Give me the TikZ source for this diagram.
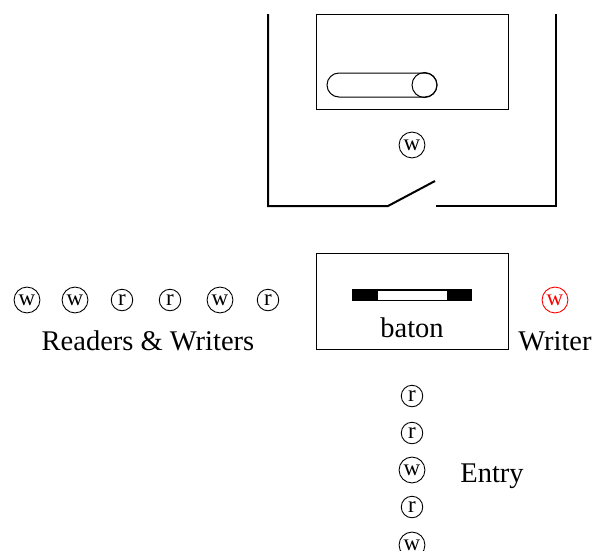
\documentclass[tikz,border=0pt]{standalone}
\usepackage{fontspec}
\setmainfont{Liberation Serif}
\begin{document}
\begin{tikzpicture}[x=1pt,y=-1pt,
  lbl/.style={font=\fontsize{28.5}{32}\selectfont, inner sep=0pt, anchor=base},
  tok/.style={circle, draw, line width=0.9pt, inner sep=2.2pt, minimum size=21.5pt,
    font=\fontsize{23}{25}\selectfont},
  thick wall/.style={line width=2pt},
  thin box/.style={draw, line width=1pt}]
\useasboundingbox (0,0) rectangle (596,550);
% outer room with door
\coordinate (tl) at (268,14);
\coordinate (bl) at (268,206);
\coordinate (d1) at (388,206);
\coordinate (d2) at (435,181);
\coordinate (d3) at (436,206);
\coordinate (br) at (556,206);
\coordinate (tr) at (556,14);
\draw[thick wall] (tl) -- (bl) -- (d1) -- (d2);
\draw[thick wall] (d3) -- (br) -- (tr);
% inner box with capsule
\node[thin box, minimum width=192pt, minimum height=95pt, inner sep=0pt] (inner) at (412,61.5) {};
\draw[line width=1pt, rounded corners=12pt] (327,73) rectangle (437,97);
\node[circle, draw, line width=1pt, minimum size=25pt, inner sep=0pt] (ball) at (424.5,85) {};
\node[tok] (win) at (412,145) {w};
% baton box
\node[thin box, minimum width=192pt, minimum height=96pt, inner sep=0pt] (batonbox) at (412,301) {};
\fill (352,289) rectangle (472,301);
\filldraw[fill=white, draw=black, line width=0.8pt] (377,290) rectangle (447,300);
\node[lbl] (baton) at (412,337) {baton};
% writer
\node[tok, draw=red, text=red] (wr) at (555,300) {w};
\node[lbl] (writer) at (555,350) {Writer};
% readers & writers row
\node[tok] (q1) at (27,300) {w};
\node[tok] (q2) at (75,300) {w};
\node[tok] (q3) at (122,300) {r};
\node[tok] (q4) at (170,300) {r};
\node[tok] (q5) at (220,300) {w};
\node[tok] (q6) at (268,300) {r};
\node[lbl] (rw) at (148,350) {Readers \& Writers};
% entry column
\node[tok] (e1) at (412,396) {r};
\node[tok] (e2) at (412,433) {r};
\node[tok] (e3) at (412,470) {w};
\node[tok] (e4) at (412,507) {r};
\node[tok] (e5) at (412,545) {w};
\node[lbl] (entry) at (492,482) {Entry};
\end{tikzpicture}
\end{document}
